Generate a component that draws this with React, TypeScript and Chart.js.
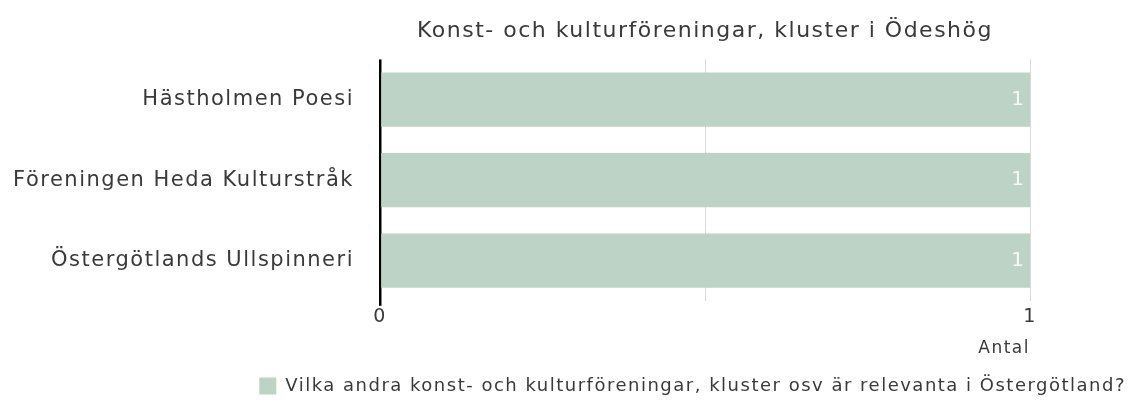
import React, { useEffect, useRef } from "react";
import { Chart, registerables } from "chart.js";

Chart.register(...registerables);

const categories = ["Hästholmen Poesi", "Föreningen Heda Kulturstråk", "Östergötlands Ullspinneri"];
const values = [1, 1, 1];
const seriesLabel = "Vilka andra konst- och kulturföreningar, kluster osv är relevanta i Östergötland?";
const chartTitle = "Konst- och kulturföreningar, kluster i Ödeshög";
const axisTitle = "Antal";

const FONT = "'DejaVu Sans', sans-serif";
const BAR = "#bdd3c5";
const TEXT = "#3a3a3a";

const spacing = {
  id: "spacing",
  beforeUpdate(chart: any) {
    chart.ctx.letterSpacing = "1.5px";
  },
  beforeDraw(chart: any) {
    chart.ctx.letterSpacing = "1.5px";
  },
};

const valueLabels = {
  id: "valueLabels",
  afterDatasetsDraw(chart: any) {
    const ctx = chart.ctx;
    const meta = chart.getDatasetMeta(0);
    ctx.save();
    ctx.letterSpacing = "0px";
    ctx.font = `20px ${FONT}`;
    ctx.fillStyle = "rgba(255,255,255,0.85)";
    ctx.textAlign = "right";
    ctx.textBaseline = "middle";
    meta.data.forEach((el: any, i: number) => {
      ctx.fillText(String(values[i]), el.x - 6, el.y);
    });
    ctx.restore();
  },
};

export default function App() {
  const ref = useRef<HTMLCanvasElement>(null);
  useEffect(() => {
    document.body.style.margin = "0";
    const chart = new Chart(ref.current!, {
      type: "bar",
      data: {
        labels: categories,
        datasets: [
          {
            label: seriesLabel,
            data: values,
            backgroundColor: BAR,
            borderWidth: 0,
            barPercentage: 0.675,
            categoryPercentage: 1,
          },
        ],
      },
      plugins: [spacing, valueLabels],
      options: {
        indexAxis: "y",
        animation: false,
        responsive: false,
        layout: { padding: { left: 10, right: 10, top: 0, bottom: 1 } },
        plugins: {
          title: {
            display: true,
            text: chartTitle,
            fullSize: false,
            color: TEXT,
            font: { family: FONT, size: 22, weight: "normal" },
            padding: { top: 18, bottom: 15 },
          },
          legend: {
            position: "bottom",
            align: "end",
            labels: {
              color: TEXT,
              font: { family: FONT, size: 18 },
              boxWidth: 17,
              boxHeight: 17,
              padding: 10,
            },
          },
          tooltip: { enabled: false },
        },
        scales: {
          x: {
            min: 0,
            max: 1,
            ticks: {
              stepSize: 0.5,
              color: TEXT,
              font: { family: FONT, size: 19 },
              padding: 0,
              maxRotation: 0,
              callback: (v: any) => (v === 0 || v === 1 ? String(v) : ""),
            },
            grid: {
              color: (c: any) => (c.tick && c.tick.value === 0 ? "#000" : "#d9d9d9"),
              lineWidth: (c: any) => (c.tick && c.tick.value === 0 ? 2.5 : 1),
              tickLength: 5,
              tickColor: (c: any) => (c.tick && c.tick.value === 0 ? "#000" : "rgba(0,0,0,0)"),
            },
            border: { display: false },
            title: {
              display: true,
              text: axisTitle,
              align: "end",
              color: TEXT,
              font: { family: FONT, size: 17 },
              padding: { top: 10, bottom: 8 },
            },
          },
          y: {
            ticks: { color: TEXT, font: { family: FONT, size: 21 }, padding: 18 },
            grid: { display: false },
            border: { display: false },
            afterFit: (s: any) => {
              s.width = 370;
            },
          },
          y2: {
            type: "category",
            position: "right",
            display: true,
            ticks: { display: false },
            grid: { display: false },
            border: { display: false },
            afterFit: (s: any) => {
              s.width = 106;
            },
          },
        },
      },
    });
    return () => chart.destroy();
  }, []);
  return <canvas ref={ref} width={1146} height={406} style={{ display: "block" }} />;
}
